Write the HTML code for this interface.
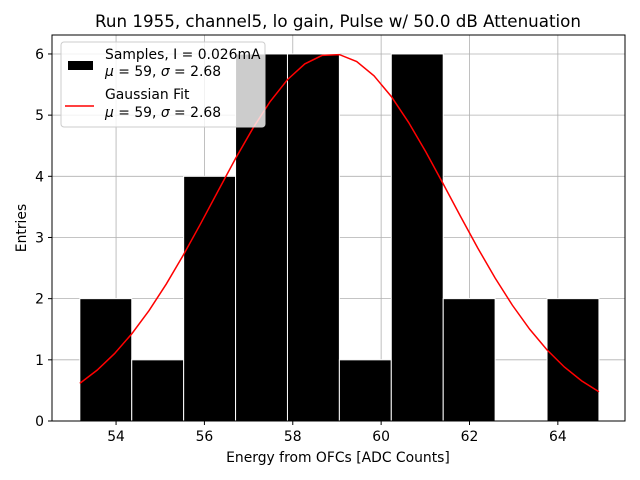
<!DOCTYPE html>
<html><head><meta charset="utf-8"><style>
body{margin:0;background:#fff;}
svg{display:block;font-family:"DejaVu Sans","Liberation Sans",sans-serif;}
</style></head><body>
<svg id="chart" width="640" height="480" viewBox="0 0 640 480" xmlns="http://www.w3.org/2000/svg">
<rect width="640" height="480" fill="#fff"/>
<text x="338" y="27" font-size="16.7" text-anchor="middle">Run 1955, channel5, lo gain, Pulse w/ 50.0 dB Attenuation</text>
<g id="grid"></g>
<g id="bars"></g>
<g id="curve"></g>
<rect x="52" y="35" width="573" height="386" fill="none" stroke="#000" stroke-width="1"/>
<g id="ticks"></g>
<text x="338" y="462" font-size="13.9" text-anchor="middle">Energy from OFCs [ADC Counts]</text>
<text transform="translate(26,228) rotate(-90)" font-size="13.9" text-anchor="middle">Entries</text>
<g>
<rect x="61" y="42" width="204" height="85" rx="3" fill="rgba(255,255,255,0.8)" stroke="#ccc"/>
<rect x="68" y="61" width="25" height="9" fill="#000"/>
<text x="105" y="59" font-size="13.9">Samples, I = 0.026mA</text>
<text x="105" y="76" font-size="13.9"><tspan font-style="italic">μ</tspan> = 59, <tspan font-style="italic">σ</tspan> = 2.68</text>
<line x1="65" y1="106" x2="94" y2="106" stroke="red" stroke-width="1.5"/>
<text x="105" y="99" font-size="13.9">Gaussian Fit</text>
<text x="105" y="117" font-size="13.9"><tspan font-style="italic">μ</tspan> = 59, <tspan font-style="italic">σ</tspan> = 2.68</text>
</g>
</svg>
<script>
const binStart = 53.18;
const binWidth = 1.175;
const counts = [2,1,4,6,6,1,6,2,0,2];
const xTicks = [54,56,58,60,62,64];
const yTicks = [0,1,2,3,4,5,6];
const fitAmp = [6.0];
const fitMu = [58.9];
const fitSigma = [2.68];
const NS="http://www.w3.org/2000/svg";
const X0=52,X1=625,Y0=421,Y1=35, xmin=52.55, xmax=65.52, ymin=0, ymax=6.31;
function sx(v){return X0+(v-xmin)/(xmax-xmin)*(X1-X0);}
function sy(v){return Y0-(v-ymin)/(ymax-ymin)*(Y0-Y1);}
function mk(t,a,p){const e=document.createElementNS(NS,t);for(const k in a)e.setAttribute(k,a[k]);p.appendChild(e);return e;}
const grid=document.getElementById('grid'), ticks=document.getElementById('ticks');
xTicks.forEach(v=>{
  const g=mk('line',{x1:sx(v),x2:sx(v),y1:Y1,y2:Y0,stroke:'#b0b0b0','stroke-width':0.8},grid);
  
  
  mk('line',{x1:sx(v),x2:sx(v),y1:Y0,y2:Y0+4,stroke:'#000'},ticks);
  const t=mk('text',{x:sx(v),y:Y0+20,'font-size':13.9,'text-anchor':'middle'},ticks);
  t.textContent=v;
  
  
});
yTicks.forEach(v=>{
  const g=mk('line',{x1:X0,x2:X1,y1:sy(v),y2:sy(v),stroke:'#b0b0b0','stroke-width':0.8},grid);
  
  
  mk('line',{x1:X0-4,x2:X0,y1:sy(v),y2:sy(v),stroke:'#000'},ticks);
  const t=mk('text',{x:X0-8,y:sy(v)+5,'font-size':13.9,'text-anchor':'end'},ticks);
  t.textContent=v;
  
  
});
const bars=document.getElementById('bars');
counts.forEach((c,i)=>{
  if(c<=0) return;
  const a=binStart+i*binWidth,b=a+binWidth;
  const r=mk('rect',{x:sx(a),y:sy(c),width:sx(b)-sx(a),height:sy(0)-sy(c),fill:'#000',stroke:'#fff','stroke-width':1},bars);
  
  
});
const xe=binStart+counts.length*binWidth;
let pts=[];
for(let k=0;k<=30;k++){
  const x=binStart+(xe-binStart)*k/30;
  const y=fitAmp[0]*Math.exp(-Math.pow(x-fitMu[0],2)/(2*fitSigma[0]*fitSigma[0]));
  pts.push(sx(x).toFixed(2)+','+sy(y).toFixed(2));
}
const pl=mk('polyline',{points:pts.join(' '),fill:'none',stroke:'red','stroke-width':1.5},document.getElementById('curve'));


</script>
</body></html>
